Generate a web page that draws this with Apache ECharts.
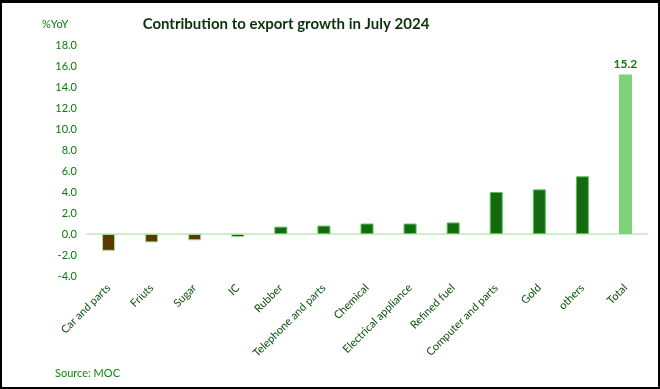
<!DOCTYPE html>
<html>
<head>
<meta charset="utf-8">
<script src="https://cdn.jsdelivr.net/npm/echarts@6/dist/echarts.min.js"></script>
<style>
html,body{margin:0;padding:0;background:#fff;}
#frame{position:absolute;left:0;top:0;width:660px;height:389px;box-sizing:border-box;border-style:solid;border-color:#000;border-width:3px 2px 2px 2px;}
#chart{position:absolute;left:0;top:0;width:660px;height:389px;}
</style>
</head>
<body>
<div id="chart"></div>
<div id="frame"></div>
<script>
const categories = ['Car and parts','Friuts','Sugar','IC','Rubber','Telephone and parts','Chemical','Electrical appliance','Refined fuel','Computer and parts','Gold','others','Total'];
const values = [-1.6,-0.8,-0.6,-0.3,0.7,0.8,1.0,1.0,1.1,4.0,4.25,5.5,15.2];
const yTicks = {min:-4, max:18, interval:2};
const titleText = 'Contribution to export growth in July 2024';
const unitText = '%YoY';
const sourceText = 'Source: MOC';

const font = 'Lato, "Open Sans", sans-serif';
const chart = echarts.init(document.getElementById('chart'));
const data = values.map((v,i)=>{
  let style;
  if (i === values.length-1) style = {color:'#7dd27a', borderColor:'#7dd27a', borderWidth:0};
  else if (v < 0) style = {color:'#5a3a02', borderColor:'#a9dc9f', borderWidth:1};
  else style = {color:'#156a0f', borderColor:'#56c656', borderWidth:1};
  const d = {value:v, itemStyle:style};
  if (i === values.length-1) d.label = {show:true, position:'top', distance:4, formatter:p=>p.value.toFixed(1), color:'#0a7a0a', fontSize:12, fontWeight:'bold', fontFamily:font};
  return d;
});
chart.setOption({
  animation:false,
  title:{text:titleText, left:281, top:12, textAlign:'center', textStyle:{color:'#0b330b', fontSize:15, fontWeight:'bold', fontFamily:font}},
  graphic:[
    {type:'text', left:42, top:19, style:{text:unitText, fill:'#0a7a0a', fontSize:11, fontFamily:font}},
    {type:'text', left:55, top:368, style:{text:sourceText, fill:'#0a8a0a', fontSize:11, fontFamily:font}}
  ],
  grid:{left:87, right:13, top:45, bottom:113, containLabel:false},
  xAxis:{type:'category', data:categories,
    axisLine:{show:true, lineStyle:{color:'#cdeecb', width:2}},
    axisTick:{show:false},
    axisLabel:{interval:0, rotate:45, margin:10, color:'#0b4f0b', fontSize:11, fontFamily:font}
  },
  yAxis:{type:'value', min:yTicks.min, max:yTicks.max, interval:yTicks.interval,
    axisLine:{show:false}, axisTick:{show:false}, splitLine:{show:false},
    axisLabel:{formatter:v=>v.toFixed(1), color:'#0a7a0a', fontSize:11, margin:10, fontFamily:font}
  },
  series:[{type:'bar', data:data, barWidth:13}]
});
</script>
</body>
</html>
